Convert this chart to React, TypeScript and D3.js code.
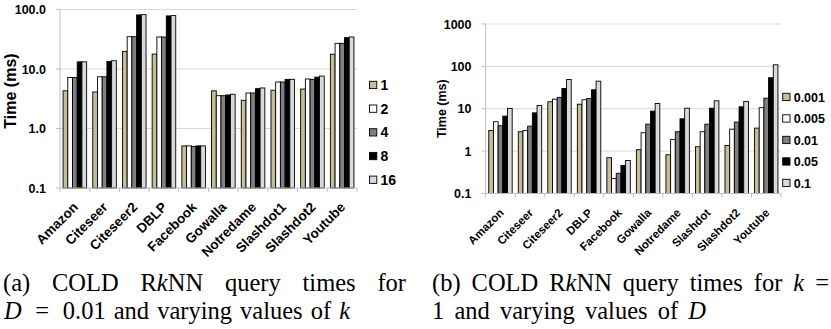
import React from "react";
import * as d3 from "d3";

// ---------- Data ----------
const categoriesA = ["Amazon", "Citeseer", "Citeseer2", "DBLP", "Facebook", "Gowalla", "Notredame", "Slashdot1", "Slashdot2", "Youtube"];
const categoriesB = ["Amazon", "Citeseer", "Citeseer2", "DBLP", "Facebook", "Gowalla", "Notredame", "Slashdot", "Slashdot2", "Youtube"];

const seriesNamesA = ["1", "2", "4", "8", "16"];
const seriesNamesB = ["0.001", "0.005", "0.01", "0.05", "0.1"];

// (a) D = 0.01, varying k
const timesK1 = [4.3, 4.1, 19.8, 17.8, 0.51, 4.3, 2.98, 4.4, 4.6, 17.7];
const timesK2 = [7.2, 7.4, 34.9, 34.5, 0.51, 3.56, 3.95, 6.05, 6.8, 27];
const timesK4 = [7.2, 7.4, 34.9, 34.5, 0.50, 3.56, 3.95, 6.05, 6.7, 27];
const timesK8 = [13.2, 13.4, 81, 78, 0.51, 3.66, 4.67, 6.7, 7.3, 33.6];
const timesK16 = [13.2, 13.8, 82, 79, 0.51, 3.76, 4.8, 6.7, 7.6, 34.5];

// (b) k = 1, varying D
const timesD0001 = [3.08, 2.87, 14.6, 12.8, 0.70, 1.08, 0.82, 1.27, 1.36, 3.49];
const timesD0005 = [4.94, 3.08, 16.8, 16.3, 0.227, 2.72, 1.89, 2.87, 3.3, 10.6];
const timesD001 = [3.97, 3.89, 18.5, 17.5, 0.30, 4.33, 2.87, 4.33, 4.83, 17.8];
const timesD005 = [6.7, 8.0, 30, 28, 0.46, 8.8, 5.8, 10.3, 11.1, 54];
const timesD01 = [10.2, 12, 49, 44.8, 0.60, 13.3, 10.3, 15.4, 14.9, 109];

const tickValuesA = [0.1, 1, 10, 100];
const tickLabelsA = ["0.1", "1.0", "10.0", "100.0"];
const tickValuesB = [0.1, 1, 10, 100, 1000];
const tickLabelsB = ["0.1", "1", "10", "100", "1000"];

const seriesColors = ["#c4bd97", "#ffffff", "#808080", "#000000", "#d9d9d9"];

const SANS = "'Liberation Sans', Arial, sans-serif";
const SERIF_NAME = "Liberation Serif";
const SERIF = "'Liberation Serif', 'Times New Roman', serif";
const CAP_SIZE = 24.5;

type Seg = { t: string; i?: boolean };
type Word = Seg[];

const captionA1: Word[] = [[{ t: "(a)" }], [{ t: "COLD" }], [{ t: "R" }, { t: "k", i: true }, { t: "NN" }], [{ t: "query" }], [{ t: "times" }], [{ t: "for" }]];
const captionA2: Word[] = [[{ t: "D", i: true }], [{ t: "=" }], [{ t: "0.01" }], [{ t: "and" }], [{ t: "varying" }], [{ t: "values" }], [{ t: "of" }], [{ t: "k", i: true }]];
const captionB1: Word[] = [[{ t: "(b)" }], [{ t: "COLD" }], [{ t: "R" }, { t: "k", i: true }, { t: "NN" }], [{ t: "query" }], [{ t: "times" }], [{ t: "for" }], [{ t: "k", i: true }], [{ t: "=" }]];
const captionB2: Word[] = [[{ t: "1" }], [{ t: "and" }], [{ t: "varying" }], [{ t: "values" }], [{ t: "of" }], [{ t: "D", i: true }]];
const gapWeightsA2 = [1.7, 1.7, 1, 1, 1, 1, 1];

let ctx: CanvasRenderingContext2D | null = null;
function measure(seg: Seg, size: number) {
  if (!ctx) ctx = document.createElement("canvas").getContext("2d");
  if (!ctx) return seg.t.length * size * 0.45;
  ctx.font = `${seg.i ? "italic " : ""}${size}px "${SERIF_NAME}"`;
  return ctx.measureText(seg.t).width;
}

function Line({ words, x, y, xEnd, size, weights }: { words: Word[]; x: number; y: number; xEnd: number; size: number; weights?: number[] }) {
  const widths = words.map((w) => w.reduce((s, seg) => s + measure(seg, size), 0));
  const total = widths.reduce((a, b) => a + b, 0);
  const wts = weights ?? words.slice(1).map(() => 1);
  const wsum = wts.reduce((a, b) => a + b, 0);
  const unit = (xEnd - x - total) / wsum;
  const tspans: JSX.Element[] = [];
  let cx = x;
  words.forEach((w, wi) => {
    let sx = cx;
    w.forEach((seg, si) => {
      tspans.push(
        <tspan key={`${wi}-${si}`} x={sx} fontStyle={seg.i ? "italic" : "normal"}>
          {seg.t}
        </tspan>
      );
      sx += measure(seg, size);
    });
    cx += widths[wi] + (wi < wts.length ? wts[wi] * unit : 0);
  });
  return (
    <text y={y} fontFamily={SERIF} fontSize={size} fill="#000">
      {tspans}
    </text>
  );
}

type PanelProps = {
  categories: string[];
  series: number[][];
  names: string[];
  domain: [number, number];
  tickValues: number[];
  tickLabels: string[];
  x0: number;
  x1: number;
  yTop: number;
  yBottom: number;
  tickRight: number;
  tickSize: number;
  titleX: number;
  titleY: number;
  titleSize: number;
  xLabelSize: number;
  legendX: number;
  legendY0: number;
  legendStep: number;
  legendSize: number;
};

function Panel(p: PanelProps) {
  const y = d3.scaleLog().domain(p.domain).range([p.yBottom, p.yTop]);
  const x = d3.scaleBand<string>().domain(p.categories).range([p.x0, p.x1]).paddingInner(0).paddingOuter(0);
  const inner = d3
    .scaleBand<number>()
    .domain(d3.range(p.series.length))
    .range([0, x.bandwidth()])
    .paddingInner(0)
    .paddingOuter(0.65);
  const bottom = y(p.domain[0]);
  const boundaries = d3.range(p.categories.length + 1).map((i) => p.x0 + i * x.step());
  return (
    <g>
      {p.tickValues.slice(1).map((v) => (
        <line key={"g" + v} x1={p.x0} x2={p.x1} y1={y(v)} y2={y(v)} stroke="#d9d9d9" strokeWidth={1} />
      ))}
      <line x1={p.x0} x2={p.x0} y1={p.yTop} y2={bottom} stroke="#bfbfbf" strokeWidth={1} />
      {p.tickValues.map((v) => (
        <line key={"yt" + v} x1={p.x0 - 4} x2={p.x0} y1={y(v)} y2={y(v)} stroke="#bfbfbf" strokeWidth={1} />
      ))}
      {p.tickValues.map((v, i) => (
        <text
          key={"yl" + v}
          x={p.tickRight}
          y={y(v)}
          dy="0.36em"
          textAnchor="end"
          fontFamily={SANS}
          fontWeight="bold"
          fontSize={p.tickSize}
          fill="#000"
        >
          {p.tickLabels[i]}
        </text>
      ))}
      <text
        transform={`translate(${p.titleX},${p.titleY}) rotate(-90)`}
        textAnchor="middle"
        dy="0.35em"
        fontFamily={SANS}
        fontWeight="bold"
        fontSize={p.titleSize}
      >
        Time (ms)
      </text>
      {p.series.map((vals, s) =>
        vals.map((v, c) => {
          const bx = (x(p.categories[c]) as number) + (inner(s) as number);
          const by = y(v);
          return (
            <rect
              key={`b${s}-${c}`}
              x={bx}
              y={by}
              width={inner.bandwidth()}
              height={bottom - by}
              fill={seriesColors[s]}
              stroke="#000"
              strokeWidth={0.9}
            />
          );
        })
      )}
      <line x1={p.x0} x2={p.x1} y1={bottom} y2={bottom} stroke="#bfbfbf" strokeWidth={1} />
      {boundaries.map((bx, i) => (
        <line key={"xt" + i} x1={bx} x2={bx} y1={bottom} y2={bottom + 4} stroke="#bfbfbf" strokeWidth={1} />
      ))}
      {p.categories.map((c) => {
        const cx = (x(c) as number) + x.bandwidth() / 2;
        return (
          <text
            key={"xl" + c}
            transform={`translate(${cx + 4},${bottom + 20}) rotate(-45)`}
            textAnchor="end"
            fontFamily={SANS}
            fontWeight="bold"
            fontSize={p.xLabelSize}
          >
            {c}
          </text>
        );
      })}
      {p.names.map((n, i) => {
        const ly = p.legendY0 + i * p.legendStep;
        return (
          <g key={"lg" + n}>
            <rect x={p.legendX} y={ly - 3.7} width={7.3} height={7.3} fill={seriesColors[i]} stroke="#000" strokeWidth={0.9} />
            <text x={p.legendX + 11} y={ly} dy="0.36em" fontFamily={SANS} fontWeight="bold" fontSize={p.legendSize}>
              {n}
            </text>
          </g>
        );
      })}
    </g>
  );
}

export default function App() {
  return (
    <svg
      width={831}
      height={329}
      viewBox="0 0 831 329"
      style={{ position: "absolute", left: 0, top: 0, background: "#fff" }}
    >
      <rect x={0} y={0} width={831} height={329} fill="#fff" />
      <Panel
        categories={categoriesA}
        series={[timesK1, timesK2, timesK4, timesK8, timesK16]}
        names={seriesNamesA}
        domain={[0.1, 100]}
        tickValues={tickValuesA}
        tickLabels={tickLabelsA}
        x0={60}
        x1={357}
        yTop={9.5}
        yBottom={188}
        tickRight={46}
        tickSize={12.5}
        titleX={10}
        titleY={91}
        titleSize={16}
        xLabelSize={13.5}
        legendX={369.5}
        legendY0={85}
        legendStep={23.7}
        legendSize={14}
      />
      <Panel
        categories={categoriesB}
        series={[timesD0001, timesD0005, timesD001, timesD005, timesD01]}
        names={seriesNamesB}
        domain={[0.1, 1000]}
        tickValues={tickValuesB}
        tickLabels={tickLabelsB}
        x0={485.7}
        x1={781}
        yTop={24}
        yBottom={193.5}
        tickRight={471.5}
        tickSize={12.5}
        titleX={442}
        titleY={108.7}
        titleSize={12.5}
        xLabelSize={11.5}
        legendX={782.7}
        legendY0={97}
        legendStep={21.5}
        legendSize={12.5}
      />
      <Line words={captionA1} x={3} y={291} xEnd={406} size={CAP_SIZE} />
      <Line words={captionA2} x={4} y={319} xEnd={350} size={CAP_SIZE} weights={gapWeightsA2} />
      <Line words={captionB1} x={432} y={291} xEnd={829} size={CAP_SIZE} />
      <Line words={captionB2} x={432} y={319} xEnd={706} size={CAP_SIZE} />
    </svg>
  );
}
